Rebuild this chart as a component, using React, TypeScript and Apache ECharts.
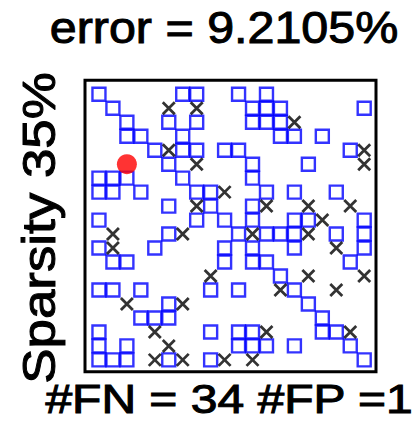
import React, { useEffect, useRef } from "react";
import * as echarts from "echarts";

// Column indices (1-based) of detected entries (blue squares), one list per row (row 1 at top)
const tpCols: number[][] = [
  [1, 7, 8, 11, 13],
  [2, 12, 13, 14, 20],
  [3, 6, 8, 12, 13, 14],
  [3, 4, 7, 14, 15, 17],
  [5, 7, 8, 10, 11, 19],
  [6, 12, 16],
  [1, 2, 3, 7, 12],
  [1, 2, 4, 8, 9, 13, 15, 18],
  [6, 9, 12],
  [1, 8, 10, 12, 15, 16, 20],
  [6, 11, 13, 14, 15, 18, 20],
  [1, 5, 10, 12, 15, 20],
  [2, 3, 10, 12, 13, 19],
  [14],
  [1, 2, 4, 9, 11, 15],
  [6, 16],
  [4, 5, 6, 17],
  [1, 9, 11, 12, 17, 18],
  [1, 3, 11, 12, 13, 15, 19],
  [1, 2, 3, 6, 9, 20],
];

// Column indices of false negatives (black crosses), one list per row
const fnCols: number[][] = [
  [],
  [6, 8],
  [15],
  [],
  [6, 20],
  [8, 20],
  [],
  [10],
  [8, 13, 16, 19],
  [17],
  [2, 7, 12, 16],
  [2, 18],
  [],
  [9, 16, 20],
  [14, 18],
  [3, 7],
  [],
  [5, 13, 19],
  [6],
  [5, 7, 10, 12],
];

// False positive (red dot): [row, col]
const fpCells: number[][] = [[6, 3]];

const titleText = "error = 9.2105%";
const yLabelText = "Sparsity 35%";
const bottomText = "#FN = 34 #FP =1";

const toPoints = (rows: number[][]) =>
  rows.flatMap((cols, r) => cols.map((c) => [c, r + 1]));

export default function App() {
  const ref = useRef<HTMLDivElement>(null);
  useEffect(() => {
    if (!ref.current) return;
    const chart = echarts.init(ref.current, null, { renderer: "svg" });
    const axisMax = 291 / 13.96;
    const font = '"Liberation Sans", Arial, sans-serif';
    const textStyle = (text: string, size: number) => ({
      text,
      font: `${size}px ${font}`,
      fontSize: size,
      fontFamily: font,
      fill: "#000",
      stroke: "#000",
      lineWidth: 1,
      align: "center",
      verticalAlign: "middle",
      textAlign: "center",
      textVerticalAlign: "middle",
    });
    chart.setOption({
      animation: false,
      backgroundColor: "#ffffff",
      grid: {
        left: 85,
        top: 80.3,
        width: 291,
        height: 291.4,
        show: true,
        borderColor: "#000000",
        borderWidth: 3,
        backgroundColor: "#ffffff",
      },
      xAxis: {
        type: "value",
        min: 0,
        max: axisMax,
        show: false,
      },
      yAxis: {
        type: "value",
        min: 0,
        max: axisMax,
        inverse: true,
        show: false,
      },
      series: [
        {
          type: "scatter",
          name: "TP",
          data: toPoints(tpCols),
          symbol: "rect",
          symbolSize: 13,
          itemStyle: {
            color: "rgba(0,0,0,0)",
            borderColor: "#0000ff",
            borderWidth: 2.4,
          },
          z: 2,
        },
        {
          type: "scatter",
          name: "FN",
          data: toPoints(fnCols),
          symbol: "path://M0,0L10,10M10,0L0,10",
          symbolSize: 12,
          itemStyle: {
            color: "rgba(0,0,0,0)",
            borderColor: "#000000",
            borderWidth: 2.8,
          },
          z: 3,
        },
        {
          type: "scatter",
          name: "FP",
          data: fpCells.map(([r, c]) => [c, r]),
          symbol: "circle",
          symbolSize: 20,
          itemStyle: { color: "#ff0000" },
          z: 4,
        },
      ],
      graphic: [
        {
          type: "text",
          x: 224,
          y: 28,
          scaleX: 1.1,
          style: textStyle(titleText, 44),
        },
        {
          type: "text",
          x: 39,
          y: 228,
          rotation: Math.PI / 2,
          scaleX: 1.15,
          style: textStyle(yLabelText, 46),
        },
        {
          type: "text",
          x: 229,
          y: 399,
          scaleX: 1.2,
          style: textStyle(bottomText, 40),
        },
      ],
    });
    return () => chart.dispose();
  }, []);
  return (
    <div
      ref={ref}
      style={{
        position: "fixed",
        left: 0,
        top: 0,
        width: 414,
        height: 432,
        background: "#fff",
      }}
    />
  );
}
